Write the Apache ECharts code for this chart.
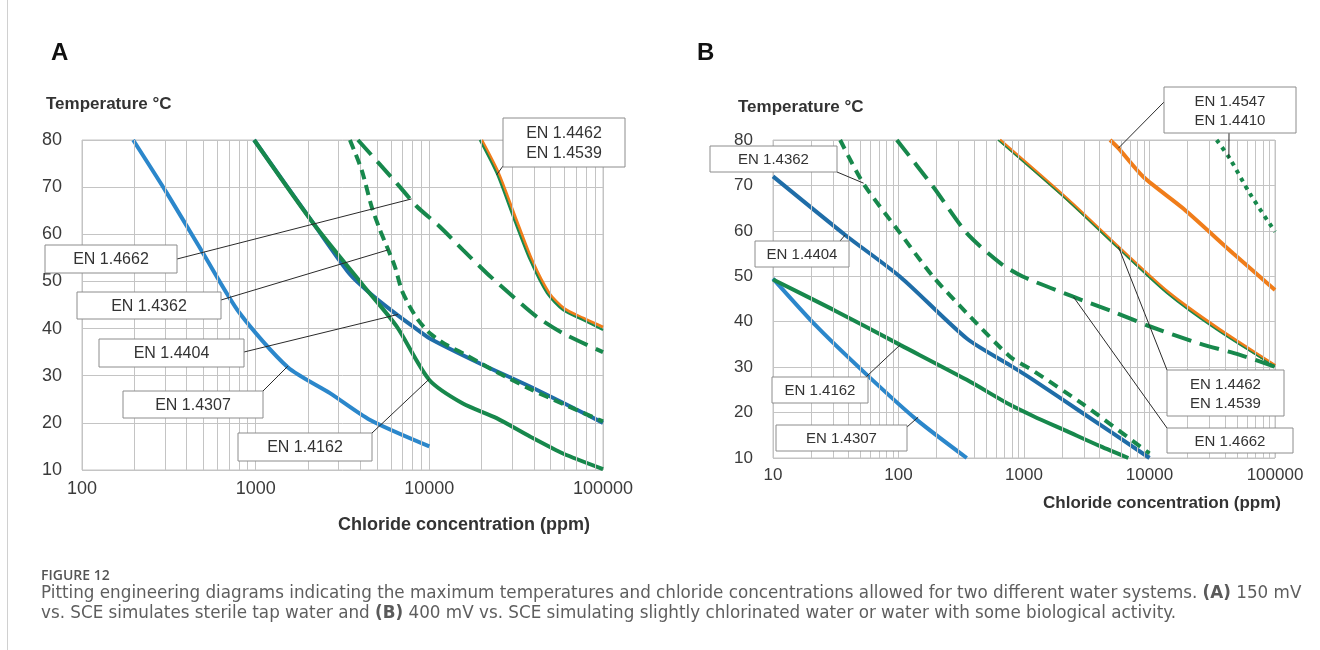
<!DOCTYPE html>
<html>
<head>
<meta charset="utf-8">
<script src="https://cdn.jsdelivr.net/npm/echarts@6/dist/echarts.min.js"></script>
<style>
  html, body { margin: 0; padding: 0; background: #fff; }
  #chart { width: 1320px; height: 650px; }
</style>
</head>
<body>
<div id="chart"></div>
<script>
// ticks
const yTicks = [10, 20, 30, 40, 50, 60, 70, 80];
const xTicksA = [100, 1000, 10000, 100000];
const xTicksB = [10, 100, 1000, 10000, 100000];

// panel A (150 mV vs. SCE): [chloride ppm, temperature °C]
const a4307 = [[197, 80], [305, 69], [494, 56.2], [808, 43.3], [1531, 31.8], [2677, 26.3], [4560, 20.6], [10000, 15]];
const a4404 = [[980, 80], [2150, 62.3], [3490, 51.5], [4550, 47.5], [6170, 43.6], [8080, 40.4], [10070, 37.9], [19540, 32.6], [37950, 27.7], [100000, 20]];
const a4162 = [[980, 80], [2150, 62.3], [4150, 49.2], [6500, 40.4], [10000, 29.1], [15600, 24.1], [24400, 21], [37950, 17.1], [58800, 13.5], [100000, 10.2]];
const a4362 = [[3490, 80], [4080, 73.6], [4650, 65.9], [5200, 60.9], [5800, 56.7], [6340, 53.1], [6930, 48.2], [7730, 44.6], [8630, 41.8], [10070, 39], [12600, 36.5], [15700, 34.7], [24400, 30.8], [37950, 27.2], [58800, 24], [100000, 20.3]];
const a4662 = [[3880, 80], [6500, 70.8], [8480, 65.9], [11500, 61.6], [15600, 56.7], [21500, 51.7], [30300, 46.8], [41600, 42.5], [58800, 39], [100000, 35]];
const a4462 = [[19500, 80], [24400, 72.9], [30300, 63.7], [37950, 54.5], [47500, 47.5], [58800, 43.9], [76600, 41.8], [100000, 39.7]];
const a4539 = [[20000, 80], [25000, 73], [31000, 64], [39000, 54.5], [49000, 47.5], [60000, 44.2], [77000, 42.2], [100000, 40.3]];

// panel B (400 mV vs. SCE)
const b4307 = [[10, 49.5], [22.4, 38.9], [56, 28.3], [140, 18.4], [350, 10]];
const b4162 = [[10, 49.3], [30.4, 42.6], [103, 34.9], [350, 27.2], [775, 21.7], [1189, 19.2], [2193, 15.9], [4036, 12.6], [6780, 10]];
const b4404 = [[10, 72], [37.6, 59.1], [103, 49.9], [350, 36.3], [775, 30.4], [1183, 27.2], [2970, 19.8], [10000, 10]];
const b4362 = [[34.3, 80], [52.3, 70.5], [103, 59.5], [189, 49.9], [350, 41.9], [775, 32.3], [1183, 29.2], [2970, 21.8], [10000, 11]];
const b4662 = [[97, 80], [189, 69.7], [350, 59.5], [647, 52.9], [986, 49.9], [2466, 45.5], [5460, 41.9], [10000, 39], [25100, 35.2], [52500, 32.7], [100000, 30.1]];
const b4462 = [[620, 80], [2193, 66.8], [5460, 56.5], [13700, 46.3], [34300, 38.2], [100000, 30.1]];
const b4539 = [[640, 80], [2250, 66.8], [5600, 56.5], [14000, 46.5], [35000, 38.5], [100000, 30.3]];
const b4547 = [[4850, 80], [5650, 78.2], [8910, 71.9], [18580, 64.9], [46500, 55], [100000, 47]];
const b4410 = [[34300, 80], [43700, 75.9], [63100, 68.2], [100000, 59.8]];

const LIGHT_BLUE = "#2b87cb";
const DARK_BLUE = "#1f6da8";
const GREEN = "#17884c";
const ORANGE = "#f07d1a";
const GRID = "#c4c4c4";
const FONT = '"Liberation Sans", Arial, sans-serif';
const CAP_FONT = '"DejaVu Sans", sans-serif';

// minor log grid lines (2..9 in each decade)
const minorLines = (decades) => decades.flatMap((d) => [2, 3, 4, 5, 6, 7, 8, 9].map((k) => k * d));

const curve = (data, grid, color, width, type, z) => ({
  type: "line",
  data,
  xAxisIndex: grid,
  yAxisIndex: grid,
  smooth: 0.25,
  symbol: "none",
  silent: true,
  z,
  lineStyle: { color, width, type, cap: "butt" },
});

const gridSeries = (grid, values) => ({
  type: "line",
  data: [],
  xAxisIndex: grid,
  yAxisIndex: grid,
  symbol: "none",
  silent: true,
  z: 1,
  markLine: {
    silent: true,
    symbol: ["none", "none"],
    label: { show: false },
    lineStyle: { color: GRID, width: 1, type: "solid" },
    emphasis: { disabled: true },
    data: values.map((v) => ({ xAxis: v })),
  },
});

const xAxisFor = (grid, min, ticks, fontSize, margin) => ({
  type: "log",
  logBase: 10,
  gridIndex: grid,
  min,
  max: 100000,
  axisLine: { show: false },
  axisTick: { show: false },
  splitLine: { show: true, lineStyle: { color: GRID, width: 1 } },
  axisLabel: {
    color: "#3a3a3a",
    fontFamily: FONT,
    fontSize,
    margin,
    formatter: (v) => {
      const r = Math.round(v);
      return ticks.includes(r) ? String(r) : "";
    },
  },
});

const yAxisFor = (grid, fontSize, pad) => ({
  type: "value",
  gridIndex: grid,
  min: 10,
  max: 80,
  interval: 10,
  axisLine: { show: false },
  axisTick: { show: false },
  splitLine: { show: true, lineStyle: { color: GRID, width: 1 } },
  axisLabel: {
    color: "#3a3a3a",
    fontFamily: FONT,
    fontSize,
    margin: 20,
    padding: [0, 0, pad, 0],
    formatter: (v) => (yTicks.includes(v) ? String(v) : ""),
  },
});

const chart = echarts.init(document.getElementById("chart"));

chart.setOption({
  animation: false,
  backgroundColor: "#fff",
  grid: [
    { left: 82, top: 140, width: 521, height: 330, show: true, borderColor: GRID, borderWidth: 1 },
    { left: 773, top: 140, width: 502, height: 318, show: true, borderColor: GRID, borderWidth: 1 },
  ],
  xAxis: [xAxisFor(0, 100, xTicksA, 18, 10), xAxisFor(1, 10, xTicksB, 17, 9)],
  yAxis: [yAxisFor(0, 18, 2), yAxisFor(1, 17, 10)],
  series: [
    gridSeries(0, minorLines([100, 1000, 10000])),
    gridSeries(1, minorLines([10, 100, 1000, 10000])),
    // A
    curve(a4307, 0, LIGHT_BLUE, 4, "solid", 3),
    curve(a4404, 0, DARK_BLUE, 4, "solid", 3),
    curve(a4162, 0, GREEN, 4, "solid", 4),
    curve(a4362, 0, GREEN, 4, [10, 6], 5),
    curve(a4662, 0, GREEN, 4, [20, 9], 5),
    curve(a4539, 0, ORANGE, 3, "solid", 3),
    curve(a4462, 0, GREEN, 2, "solid", 4),
    // B
    curve(b4307, 1, LIGHT_BLUE, 4, "solid", 3),
    curve(b4404, 1, DARK_BLUE, 4, "solid", 3),
    curve(b4162, 1, GREEN, 4, "solid", 4),
    curve(b4362, 1, GREEN, 4, [10, 7], 5),
    curve(b4662, 1, GREEN, 4, [20, 9], 5),
    curve(b4539, 1, ORANGE, 3.5, "solid", 3),
    curve(b4462, 1, GREEN, 1.5, "solid", 4),
    curve(b4547, 1, ORANGE, 4, "solid", 3),
    curve(b4410, 1, GREEN, 4, [4, 5], 5),
  ],
});

// label boxes: box [x, y, w, h] in px, leader from box point to a point on the curve (data coords)
const notesA = [
  { text: "EN 1.4662", box: [45, 245, 132, 28], from: [177, 259], to: [7900, 67.5] },
  { text: "EN 1.4362", box: [77, 292, 144, 27], from: [221, 300], to: [5800, 56.7] },
  { text: "EN 1.4404", box: [99, 339, 145, 28], from: [244, 352], to: [6600, 43] },
  { text: "EN 1.4307", box: [123, 391, 140, 27], from: [263, 391], to: [1530, 32] },
  { text: "EN 1.4162", box: [238, 433, 134, 28], from: [372, 433], to: [10000, 29.3] },
  { text: "EN 1.4462\nEN 1.4539", box: [503, 118, 122, 49], from: [503, 166], to: [24400, 72.6] },
];
const notesB = [
  { text: "EN 1.4362", box: [710, 146, 127, 26], from: [837, 172], to: [52.7, 70.5] },
  { text: "EN 1.4404", box: [755, 241, 94, 26], from: [840, 241], to: [37.6, 59.1] },
  { text: "EN 1.4162", box: [772, 377, 96, 26], from: [866, 377], to: [103, 34.9] },
  { text: "EN 1.4307", box: [776, 425, 131, 26], from: [907, 427], to: [143.5, 19] },
  { text: "EN 1.4547\nEN 1.4410", box: [1164, 87, 132, 46], from: [1164, 102], to: [5650, 78.2] },
  { text: "", box: null, from: [1229, 133], to: [42900, 76] },
  { text: "EN 1.4462\nEN 1.4539", box: [1167, 370, 117, 46], from: [1167, 370], to: [5650, 56.5] },
  { text: "EN 1.4662", box: [1167, 428, 126, 25], from: [1167, 428], to: [2472, 45.5] },
];

const txt = (text, x, y, font, fill, align, extra) => ({
  type: "text",
  silent: true,
  z: 200,
  style: Object.assign(
    { text, x, y, font, fill, align, verticalAlign: "middle", textAlign: align, textVerticalAlign: "middle" },
    extra || {}
  ),
});

const graphics = [];
const addNotes = (notes, grid, fontSize) => {
  notes.forEach((n) => {
    const p = chart.convertToPixel({ gridIndex: grid }, n.to);
    graphics.push({
      type: "line",
      silent: true,
      z: 150,
      shape: { x1: n.from[0], y1: n.from[1], x2: p[0], y2: p[1] },
      style: { stroke: "#2a2a2a", lineWidth: 1 },
    });
    if (!n.box) return;
    const [x, y, w, h] = n.box;
    graphics.push({
      type: "rect",
      silent: true,
      z: 160,
      shape: { x, y, width: w, height: h },
      style: { fill: "#fff", stroke: "#8c8c8c", lineWidth: 1 },
    });
    graphics.push(
      txt(n.text, x + w / 2, y + h / 2 + 1, `${fontSize}px ${FONT}`, "#333", "center", { lineHeight: fontSize + 4 })
    );
  });
};
addNotes(notesA, 0, 16);
addNotes(notesB, 1, 15);

// caption: fit the first line to the width it has in the figure
const caption1 = "Pitting engineering diagrams indicating the maximum temperatures and chloride concentrations allowed for two different water systems. {b|(A)} 150 mV";
const caption2 = "vs. SCE simulates sterile tap water and {b|(B)} 400 mV vs. SCE simulating slightly chlorinated water or water with some biological activity.";
const ctx = document.createElement("canvas").getContext("2d");
ctx.font = `16px ${CAP_FONT}`;
const capSize = (16 * 1258) / ctx.measureText(caption1.replace("{b|(A)}", "(A)")).width;
const capFont = `${capSize.toFixed(2)}px ${CAP_FONT}`;
const capRich = { b: { font: `bold ${capSize.toFixed(2)}px ${CAP_FONT}`, fill: "#5a5a5a" } };

graphics.push(
  { type: "line", silent: true, z: 0, shape: { x1: 7.5, y1: 0, x2: 7.5, y2: 650 }, style: { stroke: "#d0d0d0", lineWidth: 1 } },
  txt("A", 51, 53, `bold 24px ${FONT}`, "#111", "left"),
  txt("B", 697, 53, `bold 24px ${FONT}`, "#111", "left"),
  txt("Temperature °C", 46, 104, `bold 17px ${FONT}`, "#333", "left"),
  txt("Temperature °C", 738, 107, `bold 17px ${FONT}`, "#333", "left"),
  txt("Chloride concentration (ppm)", 464, 525, `bold 18px ${FONT}`, "#333", "center"),
  txt("Chloride concentration (ppm)", 1162, 503, `bold 17px ${FONT}`, "#333", "center"),
  txt("FIGURE 12", 41, 576, `600 14px "Open Sans", sans-serif`, "#555", "left"),
  txt(caption1, 41, 594, capFont, "#5e5e5e", "left", { rich: capRich }),
  txt(caption2, 41, 614, capFont, "#5e5e5e", "left", { rich: capRich })
);

chart.setOption({ graphic: graphics });
</script>
</body>
</html>
